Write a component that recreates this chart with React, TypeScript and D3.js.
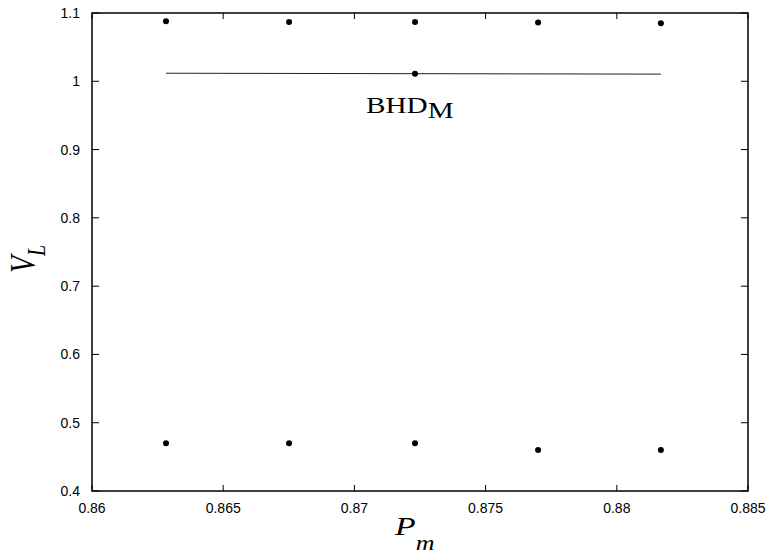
import React from "react";
import * as d3 from "d3";

const pmValues = [0.86282, 0.86751, 0.87231, 0.877, 0.88168];
const upperVL = [1.088, 1.087, 1.087, 1.086, 1.085];
const lowerVL = [0.47, 0.47, 0.47, 0.46, 0.46];
const bhdLineX = [0.86282, 0.88168];
const bhdLineY = [1.0118, 1.0105];
const bhdPoint = { x: 0.87231, y: 1.0112 };
const xTicks = [0.86, 0.865, 0.87, 0.875, 0.88, 0.885];
const yTicks = [0.4, 0.5, 0.6, 0.7, 0.8, 0.9, 1.0, 1.1];

const W = 771;
const H = 553;
const L = 92, R = 748, T = 13, B = 491;

export default function App() {
  const x = d3.scaleLinear().domain([0.86, 0.885]).range([L, R]);
  const y = d3.scaleLinear().domain([0.4, 1.1]).range([B, T]);
  const line = d3.line<number>().x((d, i) => x(bhdLineX[i])).y((d) => y(d));
  const tickFont = "'Liberation Sans', Arial, Helvetica, sans-serif";
  const serif = "'Liberation Serif', 'Times New Roman', serif";
  const fmt = (v: number) => (v === 1 ? "1" : String(+v.toFixed(3)));
  return (
    <svg width={W} height={H} style={{ position: "absolute", left: 0, top: 0, background: "#fff" }}>
      <rect x={L} y={T} width={R - L} height={B - T} fill="none" stroke="#000" strokeWidth={1.5} />
      {xTicks.map((t) => (
        <g key={"x" + t}>
          <line x1={x(t)} x2={x(t)} y1={B} y2={B - 6} stroke="#000" strokeWidth={1} />
          <line x1={x(t)} x2={x(t)} y1={T} y2={T + 6} stroke="#000" strokeWidth={1} />
          <text x={x(t)} y={513} textAnchor="middle" fontFamily={tickFont} fontSize={14}>
            {fmt(t)}
          </text>
        </g>
      ))}
      {yTicks.map((t) => (
        <g key={"y" + t}>
          <line x1={L} x2={L + 7} y1={y(t)} y2={y(t)} stroke="#000" strokeWidth={1} />
          <line x1={R} x2={R - 7} y1={y(t)} y2={y(t)} stroke="#000" strokeWidth={1} />
          <text x={80} y={y(t) + 5} textAnchor="end" fontFamily={tickFont} fontSize={14}>
            {fmt(t)}
          </text>
        </g>
      ))}
      <path d={line(bhdLineY) || ""} fill="none" stroke="#222" strokeWidth={1} />
      {pmValues.map((p, i) => (
        <circle key={"u" + i} cx={x(p)} cy={y(upperVL[i])} r={3} fill="#000" />
      ))}
      {pmValues.map((p, i) => (
        <circle key={"l" + i} cx={x(p)} cy={y(lowerVL[i])} r={3} fill="#000" />
      ))}
      <circle cx={x(bhdPoint.x)} cy={y(bhdPoint.y)} r={3} fill="#000" />
      <text transform="translate(366,113) scale(1.3,1)" fontFamily={serif} fontSize={22.5}>
        BHD<tspan dy={5}>M</tspan>
      </text>
      <text
        transform="translate(35,273) scale(1.3,1) rotate(-90)"
        fontFamily={serif}
        fontSize={28}
        fontStyle="italic"
      >
        V<tspan dy={7.5} fontSize={20}>L</tspan>
      </text>
      <text transform="translate(395,535) scale(1.3,1)" fontFamily={serif} fontSize={26} fontStyle="italic">
        P<tspan dy={15} fontSize={20}>m</tspan>
      </text>
    </svg>
  );
}
